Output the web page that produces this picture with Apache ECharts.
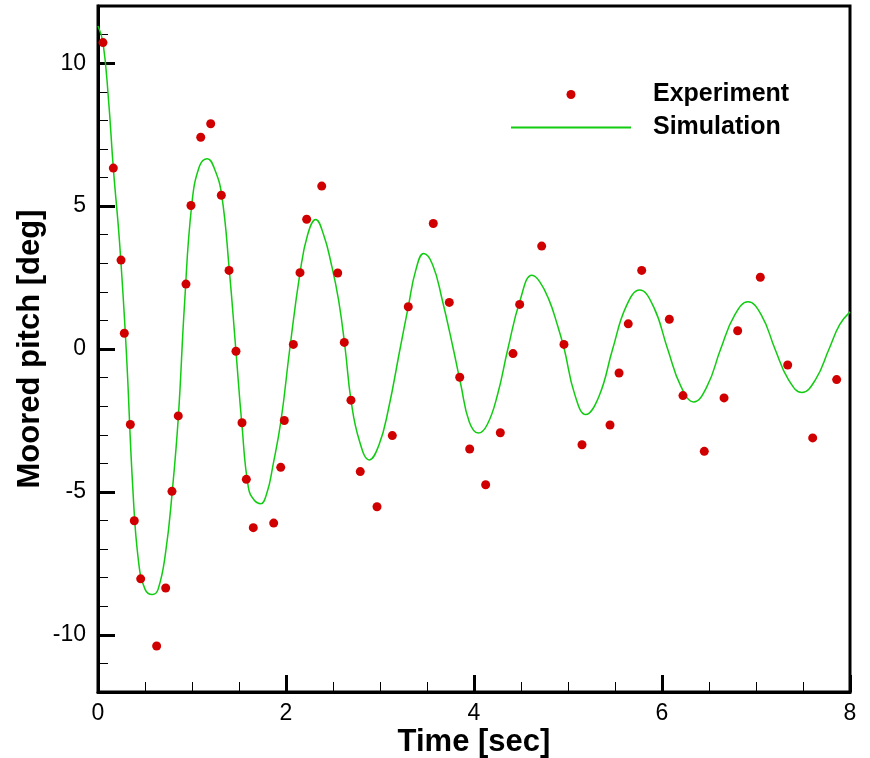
<!DOCTYPE html>
<html>
<head>
<meta charset="utf-8">
<script src="https://cdn.jsdelivr.net/npm/echarts@6.0.0/dist/echarts.min.js"></script>
<style>
  html, body { margin: 0; padding: 0; background: #fff; }
  #chart { width: 870px; height: 758px; }
</style>
</head>
<body>
<div id="chart"></div>
<script>
// Experiment (red dots)
const expTime = [0.053, 0.163, 0.245, 0.280, 0.344, 0.386, 0.454, 0.624, 0.720, 0.787,
  0.854, 0.936, 0.989, 1.093, 1.199, 1.312, 1.394, 1.468, 1.532, 1.578,
  1.652, 1.869, 1.944, 1.982, 2.078, 2.149, 2.220, 2.380, 2.550, 2.620,
  2.691, 2.790, 2.968, 3.131, 3.301, 3.567, 3.737, 3.848, 3.954, 4.124,
  4.280, 4.415, 4.486, 4.720, 4.957, 5.149, 5.447, 5.543, 5.641, 5.784,
  6.078, 6.223, 6.450, 6.660, 6.805, 7.046, 7.337, 7.603, 7.858];
const expPitch = [10.72, 6.33, 3.11, 0.55, -2.64, -6.01, -8.04, -10.39, -8.36, -4.98,
  -2.34, 2.27, 5.02, 7.41, 7.88, 5.38, 2.75, -0.08, -2.58, -4.56,
  -6.25, -6.09, -4.14, -2.50, 0.16, 2.67, 4.54, 5.70, 2.66, 0.23,
  -1.79, -4.29, -5.52, -3.03, 1.48, 4.39, 1.63, -0.99, -3.50, -4.75,
  -2.93, -0.16, 1.56, 3.60, 0.16, -3.35, -2.66, -0.84, 0.88, 2.75,
  1.04, -1.63, -3.58, -1.71, 0.64, 2.51, -0.56, -3.11, -1.07];

// Simulation (green line)
const simTime = [0, 0.053, 0.11, 0.163, 0.23, 0.30, 0.37, 0.43, 0.50, 0.578,
  0.64, 0.72, 0.79, 0.855, 0.92, 0.997, 1.08, 1.163, 1.24, 1.316,
  1.397, 1.468, 1.529, 1.60, 1.665, 1.731, 1.80, 1.858, 1.947, 2.04,
  2.149, 2.23, 2.316, 2.40, 2.48, 2.56, 2.63, 2.691, 2.78, 2.887,
  2.99, 3.09, 3.213, 3.301, 3.38, 3.465, 3.56, 3.66, 3.78, 3.86,
  3.95, 4.046, 4.14, 4.25, 4.36, 4.49, 4.617, 4.70, 4.80, 4.88,
  4.96, 5.07, 5.188, 5.33, 5.475, 5.62, 5.762, 5.91, 6.06, 6.20,
  6.337, 6.48, 6.624, 6.77, 6.915, 7.06, 7.202, 7.345, 7.489, 7.633,
  7.777, 7.89, 8.0];
const simPitch = [11.3, 10.72, 8.8, 6.33, 3.7, 0, -4.85, -7.4, -8.4, -8.59,
  -8.4, -7.1, -4.98, -2.36, 1.55, 5.03, 6.4, 6.66, 6.3, 5.38,
  2.76, -0.09, -2.57, -4.85, -5.3, -5.41, -5.0, -4.13, -2.5, 0,
  2.66, 4.0, 4.53, 4.0, 3.0, 1.7, 0, -1.78, -3.2, -3.88,
  -3.35, -2.1, 0, 1.48, 2.75, 3.34, 2.95, 1.75, 0, -1.25,
  -2.55, -2.94, -2.65, -1.6, 0, 1.7, 2.58, 2.35, 1.7, 0.92,
  0, -1.57, -2.29, -1.65, 0, 1.5, 2.06, 1.48, 0, -1.3,
  -1.85, -1.3, 0, 1.17, 1.65, 1.17, 0, -1.07, -1.52, -1.07,
  0, 0.85, 1.3];

const xTicks = [0, 2, 4, 6, 8];
const yTicks = [-10, -5, 0, 5, 10];

const expData = expTime.map((t, i) => [t, expPitch[i]]);
const simData = simTime.map((t, i) => [t, simPitch[i]]);

const chart = echarts.init(document.getElementById('chart'));
const FONT = '"Liberation Sans", Arial, Helvetica, sans-serif';

chart.setOption({
  animation: false,
  backgroundColor: '#ffffff',
  grid: {
    left: 98, right: 20, top: 6, bottom: 66,
    outerBoundsMode: 'none', containLabel: false,
    show: true, borderColor: '#000', borderWidth: 3, backgroundColor: 'transparent'
  },
  legend: {
    orient: 'vertical',
    left: 510, top: 82,
    padding: 0,
    itemWidth: 120, itemHeight: 9,
    itemGap: 8,
    textStyle: {
      fontFamily: FONT, fontWeight: 'bold', fontSize: 25, color: '#000',
      lineHeight: 25, padding: [0, 0, 0, 17]
    },
    data: [
      { name: 'Experiment' },
      { name: 'Simulation', itemStyle: { color: 'rgba(0,0,0,0)', opacity: 0, borderWidth: 0 } }
    ]
  },
  xAxis: [{
    type: 'value', min: 0, max: 8, interval: 2,
    name: 'Time [sec]', nameLocation: 'middle', nameGap: 35, nameMoveOverlap: false,
    nameTextStyle: { fontFamily: FONT, fontWeight: 'bold', fontSize: 31, color: '#000' },
    axisLine: { show: true, onZero: false, lineStyle: { color: '#000', width: 3 } },
    axisTick: { show: true, inside: true, length: 17, lineStyle: { color: '#000', width: 3 } },
    minorTick: { show: true, splitNumber: 4, length: 10, lineStyle: { color: '#000', width: 1 } },
    axisLabel: { fontFamily: FONT, fontSize: 23, color: '#000', margin: 10 },
    splitLine: { show: false }, minorSplitLine: { show: false }
  }],
  yAxis: [{
    type: 'value', min: -12, max: 12, interval: 1, position: 'left',
    name: 'Moored pitch [deg]', nameLocation: 'middle', nameGap: 52, nameMoveOverlap: false,
    nameTextStyle: { fontFamily: FONT, fontWeight: 'bold', fontSize: 31, color: '#000' },
    axisLine: { show: true, onZero: false, lineStyle: { color: '#000', width: 3 } },
    axisTick: { show: true, inside: true, length: 17, customValues: yTicks, lineStyle: { color: '#000', width: 3 } },
    axisLabel: { fontFamily: FONT, fontSize: 23, color: '#000', margin: 12, customValues: yTicks },
    splitLine: { show: false }
  }, {
    type: 'value', min: -12, max: 12, interval: 1, position: 'left',
    axisLine: { show: false, onZero: false },
    axisTick: { show: true, inside: true, length: 10, lineStyle: { color: '#000', width: 1 } },
    axisLabel: { show: false },
    splitLine: { show: false }
  }],
  series: [{
    name: 'Experiment', type: 'scatter', xAxisIndex: 0, yAxisIndex: 0,
    data: expData, symbol: 'circle', symbolSize: 9,
    itemStyle: { color: '#d00000', opacity: 1 }, z: 3
  }, {
    name: 'Simulation', type: 'line', xAxisIndex: 0, yAxisIndex: 0,
    data: simData, showSymbol: false, symbol: 'none', smooth: 0.45,
    lineStyle: { color: '#11cc11', width: 1.5 }, itemStyle: { color: '#11cc11' }, z: 2
  }]
});
</script>
</body>
</html>
